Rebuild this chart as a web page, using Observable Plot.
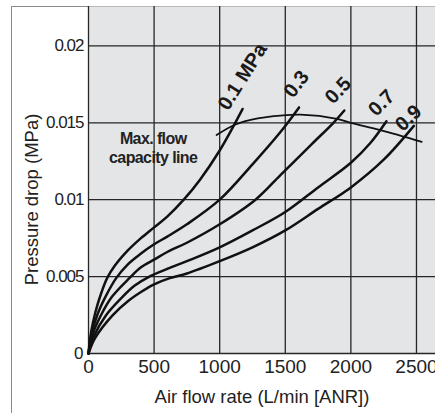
<!DOCTYPE html>
<html><head><meta charset="utf-8">
<script src="https://cdn.jsdelivr.net/npm/d3@7"></script>
<script src="https://cdn.jsdelivr.net/npm/@observablehq/plot@0.6"></script>
<style>
html,body{margin:0;padding:0;background:#fff;}
#wrap{position:relative;width:435px;height:413px;overflow:hidden;}
#box{position:absolute;left:11px;top:6px;width:440px;height:420px;border-left:1px solid #8a8a8a;border-top:1px solid #8a8a8a;pointer-events:none;}
#wrap svg{position:absolute;left:0;top:0;}
</style></head><body>
<div id="wrap"><div id="box"></div></div>
<script>
// Series: pressure drop (MPa) vs air flow rate (L/min ANR), by supply pressure
const pressures = ["0.1", "0.3", "0.5", "0.7", "0.9"];
const flow01 = [0, 20, 53, 100, 142, 200, 300, 400, 500, 600, 726, 850, 1000, 1100, 1175];
const drop01 = [0, 0.0014, 0.0027, 0.0040, 0.0049, 0.0057, 0.0067, 0.0075, 0.0082, 0.0089, 0.0100, 0.0113, 0.0132, 0.0147, 0.0159];
const flow03 = [0, 25, 71, 130, 211, 300, 400, 500, 600, 750, 1000, 1250, 1463, 1605];
const drop03 = [0, 0.0013, 0.0026, 0.0037, 0.0049, 0.0058, 0.0065, 0.0071, 0.0076, 0.0084, 0.0100, 0.0123, 0.0144, 0.0160];
const flow05 = [0, 30, 96, 180, 312, 400, 500, 600, 750, 1000, 1273, 1463, 1700, 1867, 1950];
const drop05 = [0, 0.0012, 0.0025, 0.0037, 0.0049, 0.0056, 0.0061, 0.0066, 0.0072, 0.0084, 0.0100, 0.0116, 0.0136, 0.0150, 0.0158];
const flow07 = [0, 40, 135, 250, 350, 464, 600, 750, 1000, 1250, 1500, 1750, 2000, 2150, 2271];
const drop07 = [0, 0.0011, 0.0025, 0.0036, 0.0044, 0.0050, 0.0055, 0.0060, 0.0069, 0.0080, 0.0092, 0.0108, 0.0124, 0.0137, 0.0151];
const flow09 = [0, 50, 185, 300, 400, 500, 620, 750, 1000, 1250, 1500, 1750, 2000, 2250, 2480];
const drop09 = [0, 0.0010, 0.0025, 0.0034, 0.0040, 0.0045, 0.0049, 0.0052, 0.0060, 0.0069, 0.0080, 0.0094, 0.0108, 0.0126, 0.0148];
// Max. flow capacity line
const capFlow = [976, 1120, 1300, 1463, 1616, 1895, 2000, 2226, 2540];
const capDrop = [0.0142, 0.01489, 0.0153, 0.01547, 0.01553, 0.01526, 0.0150, 0.01452, 0.01376];

// Axes
const xTicks = [0, 500, 1000, 1500, 2000, 2500];
const yTicks = [0, 0.005, 0.01, 0.015, 0.02];
const yTickLabels = ["0", "0.005", "0.01", "0.015", "0.02"];
const xTitle = "Air flow rate (L/min [ANR])";
const yTitle = "Pressure drop (MPa)";
const xMax = 2645, yMax = 0.02256;

// Curve labels (data units)
const labelTexts = ["0.1 MPa", "0.3", "0.5", "0.7", "0.9"];
const labelFlow = [1174, 1585, 1903, 2233, 2439];
const labelDrop = [0.01800, 0.01752, 0.0171, 0.01629, 0.01531];
const labelAngle = [-58, -53, -47, -45, -43];
const capLabel = "Max. flow\ncapacity line";
const capLabelFlow = 493, capLabelDrop = 0.01339;

const seriesFlow = [flow01, flow03, flow05, flow07, flow09];
const seriesDrop = [drop01, drop03, drop05, drop07, drop09];
const rows = pressures.flatMap((p, k) => seriesFlow[k].map((f, i) => ({p, flow: f, drop: seriesDrop[k][i]})));
const capRows = capFlow.map((f, i) => ({flow: f, drop: capDrop[i]}));
const labels = labelTexts.map((t, i) => ({t, flow: labelFlow[i], drop: labelDrop[i], a: labelAngle[i]}));

const font = "'Liberation Sans', Arial, Helvetica, sans-serif";
const chart = Plot.plot({
  width: 435, height: 413,
  marginLeft: 88, marginRight: 0, marginTop: 6, marginBottom: 60,
  style: {fontFamily: font, background: "transparent", color: "#222"},
  x: {domain: [0, xMax]},
  y: {domain: [0, yMax]},
  marks: [
    Plot.frame({fill: "#e4e5e7", stroke: null}),
    Plot.gridX(xTicks, {stroke: "#262626", strokeOpacity: 1, strokeWidth: 1.3}),
    Plot.gridY(yTicks, {stroke: "#262626", strokeOpacity: 1, strokeWidth: 1.3}),
    Plot.axisX(xTicks, {tickSize: 0, tickPadding: 6, fontSize: 19, label: null, tickFormat: d => String(d)}),
    Plot.axisY(yTicks, {tickSize: 0, tickPadding: 5, fontSize: 17, label: null, tickFormat: d => yTickLabels[yTicks.indexOf(d)]}),
    Plot.text([xTitle], {frameAnchor: "bottom", textAnchor: "middle", lineAnchor: "middle", dy: 44, fontSize: 18.5, fill: "#222"}),
    Plot.text([yTitle], {frameAnchor: "left", textAnchor: "middle", lineAnchor: "middle", dx: -56, dy: 19.5, rotate: -90, fontSize: 18.5, fill: "#222"}),
    Plot.line(rows, {x: "flow", y: "drop", z: "p", curve: "catmull-rom", stroke: "#111", strokeWidth: 2.5}),
    Plot.line(capRows, {x: "flow", y: "drop", curve: "catmull-rom", stroke: "#111", strokeWidth: 1.8}),
    Plot.text(labels, {x: "flow", y: "drop", text: "t", rotate: "a", fontSize: 20, fontWeight: "bold", fill: "#1a1a1a"}),
    Plot.text([capLabel], {x: () => capLabelFlow, y: () => capLabelDrop, fontSize: 16, fontWeight: "bold", lineHeight: 1.21, fill: "#222"})
  ]
});
d3.select(chart).selectAll("text")
  .filter(function() { return this.textContent.includes("capacity"); })
  .attr("letter-spacing", "-0.6");
d3.select(chart).selectAll("text")
  .filter(function() { return yTickLabels.includes(this.textContent) && this.textContent !== "0"; })
  .attr("letter-spacing", "-1");
document.getElementById("wrap").appendChild(chart);
</script>
</body></html>
